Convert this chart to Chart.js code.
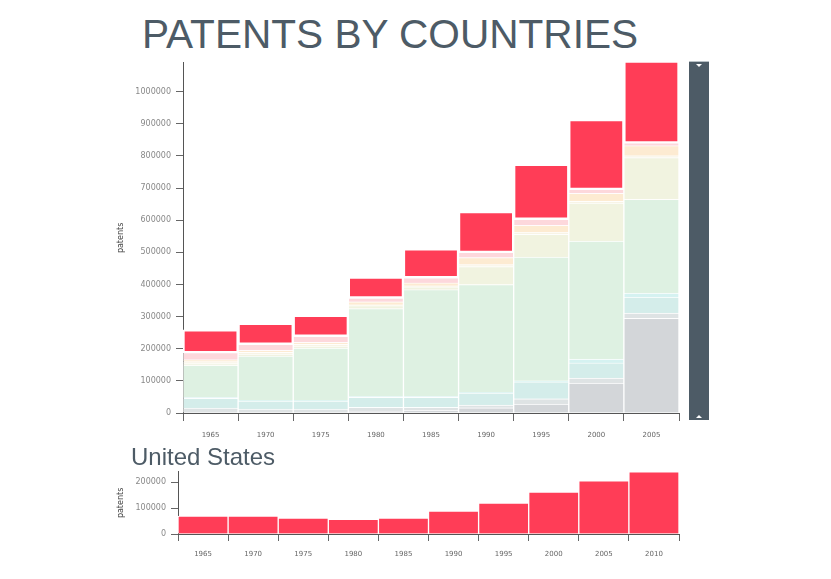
<!DOCTYPE html>
<html>
<head>
<meta charset="utf-8">
<script src="https://cdn.jsdelivr.net/npm/chart.js@4/dist/chart.umd.min.js"></script>
<style>
  body { margin: 0; background: #fff; width: 831px; height: 579px; position: relative; overflow: hidden; font-family: "Liberation Sans", Arial, sans-serif; }
  .head { position: absolute; color: #4d5b66; line-height: 1; white-space: nowrap; }
  #title { left: 142px; top: 14px; font-size: 40.6px; }
  #sub { left: 131px; top: 445px; font-size: 24px; }
  #mainWrap { position: absolute; left: 110px; top: 53px; }
  #usWrap { position: absolute; left: 110px; top: 462px; }
  #scroll { position: absolute; left: 689px; top: 61px; width: 20px; height: 359px; background: #4d5b66; border-top: 1px solid #b9c1c6; box-sizing: border-box; }
  .tri { position: absolute; left: 7px; width: 0; height: 0; border-left: 3px solid transparent; border-right: 3px solid transparent; }
  #triTop { top: 2px; border-top: 3px solid #fff; }
  #triBot { bottom: 2px; border-bottom: 3px solid #fff; }
</style>
</head>
<body>
<div id="title" class="head">PATENTS BY COUNTRIES</div>
<div id="mainWrap"><canvas id="mainChart" width="580" height="392"></canvas></div>
<div id="scroll"><div id="triTop" class="tri"></div><div id="triBot" class="tri"></div></div>
<div id="sub" class="head">United States</div>
<div id="usWrap"><canvas id="usChart" width="580" height="103"></canvas></div>

<script>
// stacked layers, bottom to top (patents)
const years = ['1965', '1970', '1975', '1980', '1985', '1990', '1995', '2000', '2005'];
const grayLayer = [3000, 3000, 3000, 6000, 9000, 16000, 28000, 93000, 295000];
const silverLayer = [12000, 9000, 9000, 12000, 9000, 9000, 16000, 16000, 16000];
const tealLayer = [31000, 25000, 25000, 31000, 31000, 37000, 53000, 47000, 50000];
const aquaLayer = [3000, 3000, 3000, 3000, 3000, 3000, 3000, 12000, 12000];
const greenLayer = [99000, 137000, 162000, 273000, 332000, 335000, 385000, 367000, 292000];
const beigeLayer = [6000, 6000, 6000, 9000, 9000, 56000, 71000, 118000, 130000];
const ivoryLayer = [6000, 6000, 6000, 3000, 3000, 6000, 6000, 6000, 6000];
const orangeLayer = [6000, 6000, 6000, 9000, 9000, 22000, 22000, 25000, 31000];
const pinkLayer = [22000, 19000, 19000, 12000, 16000, 16000, 19000, 12000, 9000];
const usLayer = [71000, 65000, 65000, 65000, 90000, 127000, 171000, 217000, 295000];
const mainTicks = [0, 100000, 200000, 300000, 400000, 500000, 600000, 700000, 800000, 900000, 1000000];

// United States detail
const usYears = ['1965', '1970', '1975', '1980', '1985', '1990', '1995', '2000', '2005', '2010'];
const usPatents = [69000, 69000, 61000, 57000, 61000, 88000, 119000, 162000, 205000, 240000];
const usTicks = [0, 100000, 200000];

const tickFont = { family: 'DejaVu Sans', size: 8 };
const yearFont = { family: 'DejaVu Sans', size: 7 };

function layer(data, color) {
  return {
    data: data,
    backgroundColor: color,
    borderColor: 'rgba(255,255,255,0.5)',
    borderWidth: 1,
    categoryPercentage: 1,
    barPercentage: 1
  };
}

const mainDatasets = [
  layer(grayLayer, '#d3d6d9'),
  layer(silverLayer, '#dee3e4'),
  layer(tealLayer, '#d4edea'),
  layer(aquaLayer, '#d5f2f1'),
  layer(greenLayer, '#def1e2'),
  layer(beigeLayer, '#f1f3e0'),
  layer(ivoryLayer, '#f8f4e6'),
  layer(orangeLayer, '#fdebd2'),
  layer(pinkLayer, '#fdd8dc'),
  {
    data: usLayer,
    backgroundColor: '#ff3d57',
    borderColor: '#fff',
    borderWidth: 2,
    borderSkipped: false,
    categoryPercentage: 1,
    barPercentage: 1
  }
];

new Chart(document.getElementById('mainChart'), {
  type: 'bar',
  data: { labels: years, datasets: mainDatasets },
  options: {
    responsive: false,
    animation: false,
    layout: { padding: { top: 7, right: 11, left: 0, bottom: 0 } },
    plugins: { legend: { display: false }, tooltip: { enabled: false } },
    scales: {
      x: {
        stacked: true,
        afterFit: s => { s.height = 32; },
        grid: { offset: true, drawOnChartArea: false, tickLength: 8, color: '#666' },
        border: { color: '#555' },
        ticks: { font: yearFont, color: '#666', padding: 10, maxRotation: 0 }
      },
      y: {
        stacked: true,
        min: 0,
        max: 1090000,
        afterFit: s => { s.width = 73; },
        afterBuildTicks: s => { s.ticks = mainTicks.map(v => ({ value: v })); },
        grid: { drawOnChartArea: false, tickLength: 7, color: '#666' },
        border: { color: '#555' },
        ticks: { font: tickFont, color: '#888', padding: 5, callback: v => String(v) },
        title: { display: true, text: 'patents', font: tickFont, color: '#444', padding: { top: 6, bottom: 0 } }
      }
    }
  }
});

new Chart(document.getElementById('usChart'), {
  type: 'bar',
  data: {
    labels: usYears,
    datasets: [{
      data: usPatents,
      backgroundColor: '#ff3d57',
      borderColor: '#fff',
      borderWidth: 1,
      categoryPercentage: 1,
      barPercentage: 1
    }]
  },
  options: {
    responsive: false,
    animation: false,
    layout: { padding: { top: 7, right: 11, left: 0, bottom: 0 } },
    plugins: { legend: { display: false }, tooltip: { enabled: false } },
    scales: {
      x: {
        afterFit: s => { s.height = 31; },
        grid: { offset: true, drawOnChartArea: false, tickLength: 7, color: '#666' },
        border: { color: '#555' },
        ticks: { font: yearFont, color: '#666', padding: 9, maxRotation: 0 }
      },
      y: {
        min: 0,
        max: 240000,
        afterFit: s => { s.width = 68; },
        afterBuildTicks: s => { s.ticks = usTicks.map(v => ({ value: v })); },
        grid: { drawOnChartArea: false, tickLength: 7, color: '#666' },
        border: { color: '#555' },
        ticks: { font: tickFont, color: '#888', padding: 5, callback: v => String(v) },
        title: { display: true, text: 'patents', font: tickFont, color: '#444', padding: { top: 6, bottom: 0 } }
      }
    }
  }
});
</script>
</body>
</html>
